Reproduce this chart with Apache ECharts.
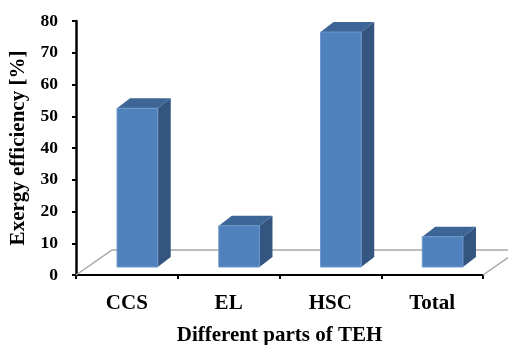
<!DOCTYPE html>
<html>
<head>
<meta charset="utf-8">
<script src="https://cdn.jsdelivr.net/npm/echarts@6/dist/echarts.min.js"></script>
<style>
  html, body { margin: 0; padding: 0; background: #ffffff; }
  #chart { width: 508px; height: 345px; }
</style>
</head>
<body>
<div id="chart"></div>
<script>
// Exergy efficiency of the TEH subsystems
const categories = ['CCS', 'EL', 'HSC', 'Total'];
const efficiency = [50, 13, 74, 9.5];
const yTicks = { min: 0, max: 80, interval: 10 };

const FONT = '"Liberation Serif", "Times New Roman", serif';

// Oblique projection used for the pseudo-3D look
const floorDepth = { dx: 36, dy: -25 };   // full depth of the floor plane
const barFront = { dx: 10.5, dy: -8 };    // where the bar front faces sit
const barDepth = { dx: 13, dy: -10 };     // thickness of each column
const barRatio = 0.4;                     // column width as share of a category

const chart = echarts.init(document.getElementById('chart'), null, { renderer: 'canvas' });

function renderFloor(params, api) {
  const cs = params.coordSys;
  const x0 = cs.x, x1 = cs.x + cs.width, y0 = cs.y + cs.height;
  const style = { stroke: '#a6a6a6', lineWidth: 1.5, fill: null };
  return {
    type: 'group',
    children: [
      { type: 'polyline', shape: { points: [
          [x0, y0], [x0 + floorDepth.dx, y0 + floorDepth.dy],
          [x1 + floorDepth.dx, y0 + floorDepth.dy], [x1, y0]
        ] }, style: style }
    ]
  };
}

function renderColumn(params, api) {
  const idx = api.value(0);
  const base = api.coord([idx, 0]);
  const top = api.coord([idx, api.value(1)]);
  const w = api.size([1, 0])[0] * barRatio;
  const cx = base[0] + barFront.dx;
  const l = cx - w / 2, r = cx + w / 2;
  const b = base[1] + barFront.dy, t = top[1] + barFront.dy;
  const ddx = barDepth.dx, ddy = barDepth.dy;
  return {
    type: 'group',
    children: [
      { type: 'polygon', shape: { points: [[r, b], [r + ddx, b + ddy], [r + ddx, t + ddy], [r, t]] },
        style: { fill: '#34557f' } },
      { type: 'polygon', shape: { points: [[l, t], [r, t], [r + ddx, t + ddy], [l + ddx, t + ddy]] },
        style: { fill: '#3d6696' } },
      { type: 'rect', shape: { x: l, y: t, width: w, height: b - t },
        style: { fill: '#4f81bd', stroke: '#6f98cc', lineWidth: 1 } }
    ]
  };
}

const option = {
  backgroundColor: '#ffffff',
  animation: false,
  grid: { left: 76, right: 25, top: 21, bottom: 70, containLabel: false, outerBoundsMode: 'none' },
  xAxis: {
    type: 'category',
    data: categories,
    boundaryGap: true,
    name: 'Different parts of TEH',
    nameLocation: 'middle',
    nameGap: 50,
    nameTextStyle: { fontFamily: FONT, fontWeight: 'bold', fontSize: 21, color: '#000' },
    axisLine: { show: true, lineStyle: { color: '#000', width: 2 } },
    axisTick: { show: true, length: 4, lineStyle: { color: '#000', width: 2 } },
    axisLabel: { margin: 18, fontFamily: FONT, fontWeight: 'bold', fontSize: 21, color: '#000' },
    splitLine: { show: false }
  },
  yAxis: {
    type: 'value',
    min: yTicks.min,
    max: yTicks.max,
    interval: yTicks.interval,
    name: 'Exergy efficiency [%]',
    nameLocation: 'middle',
    nameGap: 47,
    nameTextStyle: { fontFamily: FONT, fontWeight: 'bold', fontSize: 21, color: '#000' },
    axisLine: { show: true, lineStyle: { color: '#000', width: 2.5 } },
    axisTick: { show: true, length: 4, lineStyle: { color: '#000', width: 2 } },
    axisLabel: { margin: 18, fontFamily: FONT, fontWeight: 'bold', fontSize: 17.5, color: '#000' },
    splitLine: { show: false }
  },
  series: [
    {
      type: 'custom',
      renderItem: renderFloor,
      data: [[0, 0]],
      silent: true,
      z: 1
    },
    {
      type: 'custom',
      renderItem: renderColumn,
      data: efficiency.map((v, i) => [i, v]),
      encode: { x: 0, y: 1 },
      z: 2
    }
  ]
};

chart.setOption(option);
</script>
</body>
</html>
